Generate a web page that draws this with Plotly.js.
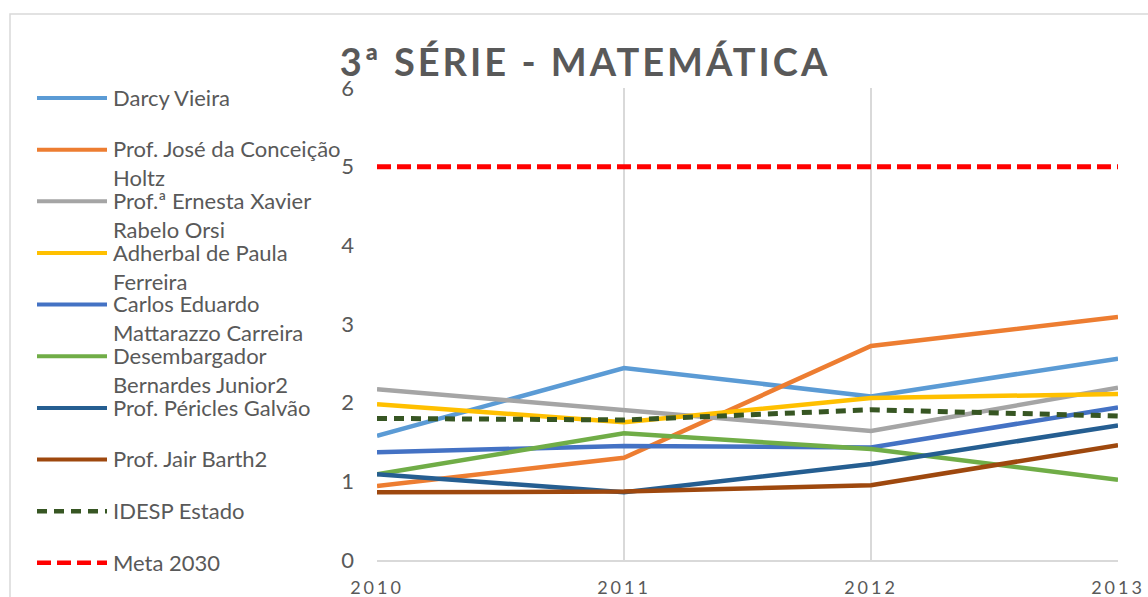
<!DOCTYPE html>
<html><head><meta charset="utf-8">
<script src="https://cdn.plot.ly/plotly-3.0.1.min.js"></script>
<style>
html,body{margin:0;padding:0;background:#fff;}
#chart{width:1148px;height:597px;}
#chart .gtitle{letter-spacing:3px;}
#chart .xtick text{letter-spacing:3px;}
</style></head><body><div id="chart"></div>
<script>
// ---- data ----
const years = [2010, 2011, 2012, 2013];
const yearLabels = ['2010', '2011', '2012', '2013'];
const yTicks = [0, 1, 2, 3, 4, 5, 6];
const seriesNames = [
  'Darcy Vieira',
  'Prof. José da Conceição<br>Holtz',
  'Prof.ª Ernesta Xavier<br>Rabelo Orsi',
  'Adherbal de Paula<br>Ferreira',
  'Carlos Eduardo<br>Mattarazzo Carreira',
  'Desembargador<br>Bernardes Junior2',
  'Prof. Péricles Galvão',
  'Prof. Jair Barth2',
  'IDESP Estado',
  'Meta 2030'
];
const darcyVieira      = [1.58, 2.44, 2.08, 2.56];
const joseConceicao    = [0.94, 1.30, 2.72, 3.09];
const ernestaXavier    = [2.17, 1.91, 1.64, 2.19];
const adherbalPaula    = [1.98, 1.75, 2.06, 2.11];
const carlosEduardo    = [1.37, 1.45, 1.43, 1.94];
const desembargador    = [1.09, 1.61, 1.41, 1.02];
const periclesGalvao   = [1.09, 0.86, 1.22, 1.71];
const jairBarth        = [0.86, 0.87, 0.95, 1.46];
const idespEstado      = [1.80, 1.78, 1.91, 1.83];
const meta2030         = [5, 5, 5, 5];
const seriesValues = [darcyVieira, joseConceicao, ernestaXavier, adherbalPaula,
  carlosEduardo, desembargador, periclesGalvao, jairBarth, idespEstado, meta2030];

// ---- styles ----
const colors = ['#5B9BD5', '#ED7D31', '#A5A5A5', '#FFC000', '#4472C4',
  '#70AD47', '#255E91', '#9E480E', '#375623', '#FF0000'];
const dashes = ['solid','solid','solid','solid','solid','solid','solid','solid','10px,7px','14px,6px'];
const widths = [4.5,4.5,4.5,4.5,4.5,4.5,4.5,4.5,5,5];

const W = 1148, H = 597;
const M = {l: 377, r: 30, t: 88, b: 37};
const pw = W - M.l - M.r, ph = H - M.t - M.b;
const px = x => (x - M.l) / pw;
const py = y => (H - M.b - y) / ph;

const traces = seriesNames.map((n, i) => ({
  type: 'scatter', mode: 'lines', x: years, y: seriesValues[i],
  name: n.replace('<br>', ' '), showlegend: false,
  line: {color: colors[i], width: widths[i], dash: dashes[i]},
  hoverinfo: 'x+y+name'
}));

const fontFam = 'Lato, "Open Sans", sans-serif';
const legFs = 22;
const shapes = [];
const annotations = [];
seriesNames.forEach((n, i) => {
  const yy = 98 + i * 51.65;
  shapes.push({type: 'line', xref: 'paper', yref: 'paper',
    x0: px(37), x1: px(107), y0: py(yy), y1: py(yy),
    line: {color: colors[i], width: widths[i] - 0.5, dash: dashes[i]}});
  annotations.push({xref: 'paper', yref: 'paper', x: px(113), y: py(yy - legFs * 0.65),
    xanchor: 'left', yanchor: 'top', align: 'left', showarrow: false,
    borderpad: 0, borderwidth: 0, text: n,
    font: {family: fontFam, size: legFs, color: '#595959'}});
});
// chart frame
shapes.push({type: 'path', xref: 'paper', yref: 'paper',
  path: `M ${px(10)} ${py(H + 20)} L ${px(10)} ${py(14)} L ${px(W + 20)} ${py(14)}`,
  line: {color: '#D9D9D9', width: 1.5}});

const layout = {
  width: W, height: H,
  margin: M,
  paper_bgcolor: '#ffffff', plot_bgcolor: '#ffffff',
  showlegend: false,
  title: {text: '3ª SÉRIE - MATEMÁTICA', x: 585 / W, xanchor: 'center',
    y: 1 - 63 / H, yanchor: 'middle',
    font: {family: fontFam, size: 38, color: '#595959', weight: 'bold'}},
  xaxis: {range: [2010, 2013], tickvals: years, ticktext: yearLabels,
    showgrid: true, gridcolor: '#D9D9D9', gridwidth: 1.5,
    showline: true, linecolor: '#D9D9D9', linewidth: 1.5,
    zeroline: false, ticks: '', ticklabelstandoff: 11,
    tickfont: {family: fontFam, size: 18, color: '#595959'}},
  yaxis: {range: [0, 6], tickvals: yTicks, showgrid: false, zeroline: false,
    showline: false, ticks: '', ticklabelstandoff: 22,
    tickfont: {family: fontFam, size: 22, color: '#595959'}},
  shapes: shapes, annotations: annotations
};
Plotly.newPlot('chart', traces, layout, {displayModeBar: false, staticPlot: true});
</script></body></html>
